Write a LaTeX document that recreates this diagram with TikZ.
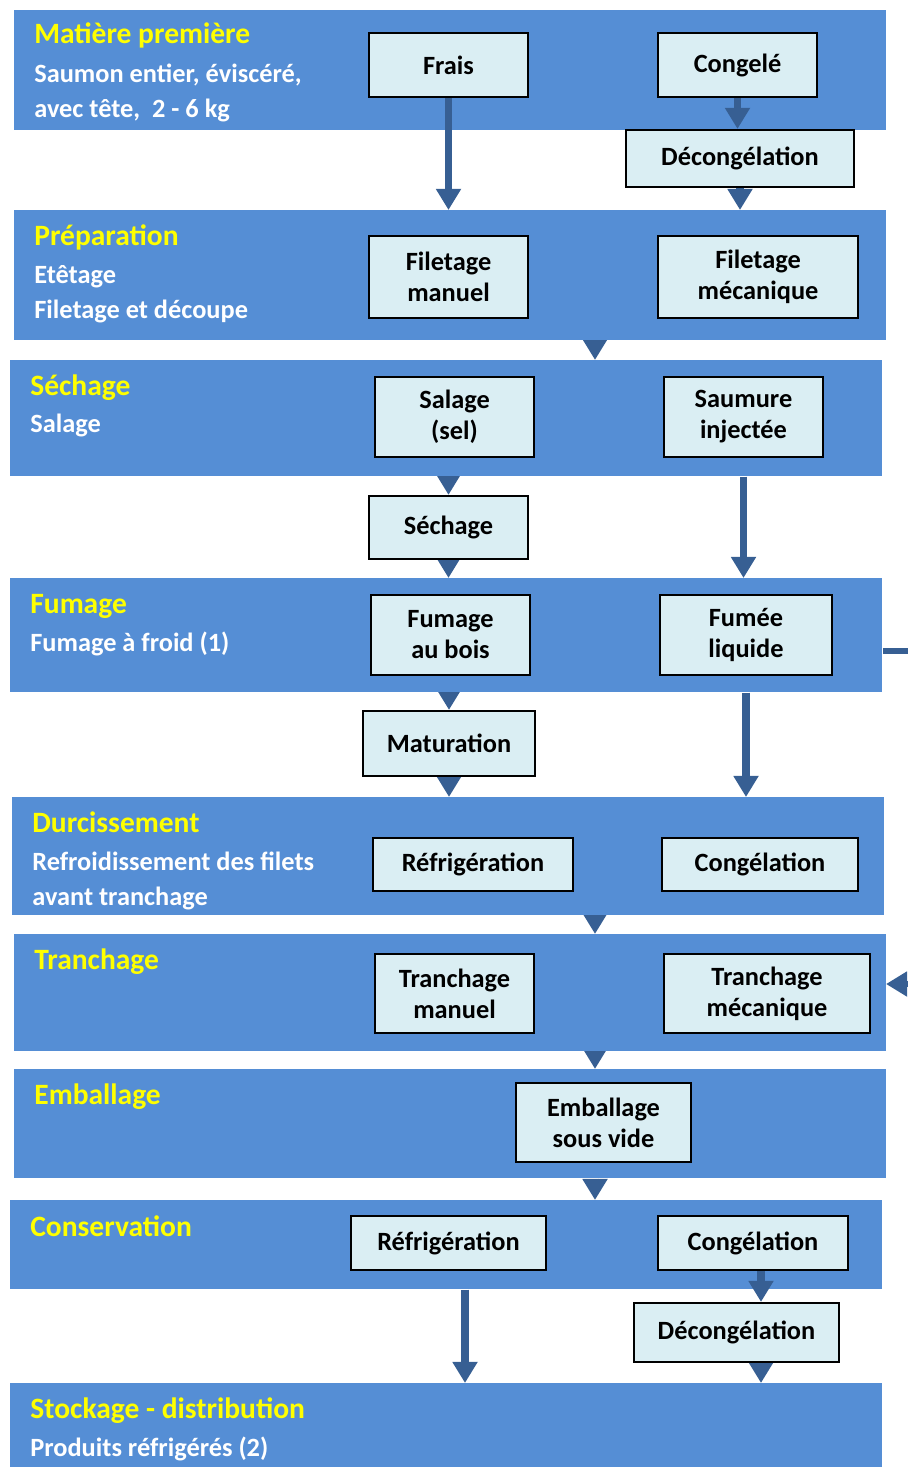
\documentclass[tikz,border=0pt]{standalone}
\usepackage{fontspec}
\setmainfont{Carlito}
\usetikzlibrary{positioning,arrows.meta}
\pgfdeclarelayer{bg}
\pgfsetlayers{bg,main}
\definecolor{bandblue}{HTML}{558ED5}
\definecolor{flowblue}{HTML}{375F93}
\definecolor{boxfill}{HTML}{DAEEF3}
\definecolor{ttlyellow}{HTML}{FFFF00}
\newcommand\pu{0.02cm}

\begin{document}
\begin{tikzpicture}[x=\pu,y=-\pu,
  band/.style={fill=bandblue,anchor=north west,inner sep=0pt,minimum width=872*\pu,minimum height=#1*\pu},
  optbox/.style 2 args={draw=black,line width=1.2pt,fill=boxfill,align=center,inner sep=0pt,minimum width=#1*\pu,minimum height=#2*\pu,font=\bfseries\fontsize{15}{17.6}\selectfont},
  stagettl/.style={anchor=base west,inner sep=0pt,text=ttlyellow,font=\bfseries\fontsize{16.8}{20}\selectfont},
  stagetxt/.style={anchor=base west,inner sep=0pt,align=left,text=white,font=\bfseries\fontsize{15}{19.8}\selectfont},
  flow/.style={color=flowblue,line width=4pt,-{Triangle[width=13.6pt,length=12pt]}}]
\useasboundingbox (0,0) rectangle (908,1467);
\clip (0,0) rectangle (908,1467);

\node[band=120] (b1) at (14,10) {};
\node[band=130] (b2) at (14,210) {};
\node[band=116] (b3) at (10,360) {};
\node[band=114] (b4) at (10,578) {};
\node[band=118] (b5) at (12,797) {};
\node[band=117] (b6) at (14,934) {};
\node[band=109] (b7) at (14,1069) {};
\node[band=89] (b8) at (10,1200) {};
\node[band=84] (b9) at (10,1383) {};

\node[stagettl] (t1) at (34,43) {Matière première};
\node[stagetxt] (s1) at (34,117) {Saumon entier, éviscéré,\\avec tête,~ 2 - 6 kg};
\node[stagettl] (t2) at (34,245) {Préparation};
\node[stagetxt] (s2) at (34,318) {Etêtage\\Filetage et découpe};
\node[stagettl] (t3) at (30,395) {Séchage};
\node[stagetxt] (s3) at (30,432) {Salage};
\node[stagettl] (t4) at (30,613) {Fumage};
\node[stagetxt] (s4) at (30,651) {Fumage à froid (1)};
\node[stagettl] (t5) at (32,832) {Durcissement};
\node[stagetxt] (s5) at (32,905) {Refroidissement des filets\\avant tranchage};
\node[stagettl] (t6) at (34,969) {Tranchage};
\node[stagettl] (t7) at (34,1104) {Emballage};
\node[stagettl] (t8) at (30,1236) {Conservation};
\node[stagettl] (t9) at (30,1418) {Stockage - distribution};
\node[stagetxt] (s9) at (30,1456) {Produits réfrigérés (2)};

\node[optbox={159}{64}] (frais) at (448.5,65) {Frais};
\node[optbox={159}{64}] (congele) at (737.5,65) {Congelé};
\node[optbox={228}{57}] (decong1) at (740,158.5) {Décongélation};
\node[optbox={159}{82}] (filman) at (448.5,277) {Filetage\\manuel};
\node[optbox={200}{82}] (filmec) at (758,277) {Filetage\\mécanique};
\node[optbox={159}{80}] (salage) at (454.5,417) {Salage\\(sel)};
\node[optbox={159}{80}] (saumure) at (743.5,417) {Saumure\\injectée};
\node[optbox={159}{63}] (sechbox) at (448.5,527.5) {Séchage};
\node[optbox={159}{80}] (fumbois) at (450.5,635) {Fumage\\au bois};
\node[optbox={172}{80}] (fumliq) at (746,635) {Fumée\\liquide};
\node[optbox={172}{65}] (matur) at (449,743.5) {Maturation};
\node[optbox={200}{53}] (refr1) at (473,864.5) {Réfrigération};
\node[optbox={196}{53}] (congel1) at (760,864.5) {Congélation};
\node[optbox={159}{79}] (tranman) at (454.5,993.5) {Tranchage\\manuel};
\node[optbox={206}{79}] (tranmec) at (767,993.5) {Tranchage\\mécanique};
\node[optbox={175}{79}] (emball) at (603.5,1122.5) {Emballage\\sous vide};
\node[optbox={195}{54}] (refr2) at (448.5,1243) {Réfrigération};
\node[optbox={190}{54}] (congel2) at (753,1243) {Congélation};
\node[optbox={205}{59}] (decong2) at (736.5,1332.5) {Décongélation};

\coordinate (mcol) at (595,0);
\coordinate (rcol) at (465,0);
\coordinate (dcol) at (761,0);
\coordinate (fout) at (883,651);
\coordinate (tin) at (886,984);

\draw[flow] (frais.south) -- (frais.south |- b2.north);
\draw[flow] (congele.south) -- (congele.south |- decong1.north);
\draw[flow] (saumure.south |- b3.south) -- (saumure.south |- b4.north);
\draw[flow] (fumliq.south |- b4.south) -- (fumliq.south |- b5.north);
\draw[flow] (b8.south -| rcol) -- (b9.north -| rcol);
\draw[flow] (congel2.south -| dcol) -- (decong2.north -| dcol);
\draw[flow,line width=3pt] (fout) -- ++(40,0) |- (tin);

\begin{pgfonlayer}{bg}
\draw[flow] (decong1.south) -- (decong1.south |- b2.north);
\draw[flow] (b2.south -| mcol) -- (b3.north -| mcol);
\draw[flow] (sechbox.north |- b3.south) -- (sechbox.north);
\draw[flow] (sechbox.south) -- (sechbox.south |- b4.north);
\draw[flow] (matur.north |- b4.south) -- (matur.north);
\draw[flow] (matur.south) -- (matur.south |- b5.north);
\draw[flow] (b5.south -| mcol) -- (b6.north -| mcol);
\draw[flow] (b6.south -| mcol) -- (b7.north -| mcol);
\draw[flow] (b7.south -| mcol) -- (b8.north -| mcol);
\draw[flow] (decong2.south -| dcol) -- (b9.north -| dcol);
\end{pgfonlayer}
\end{tikzpicture}
\end{document}
